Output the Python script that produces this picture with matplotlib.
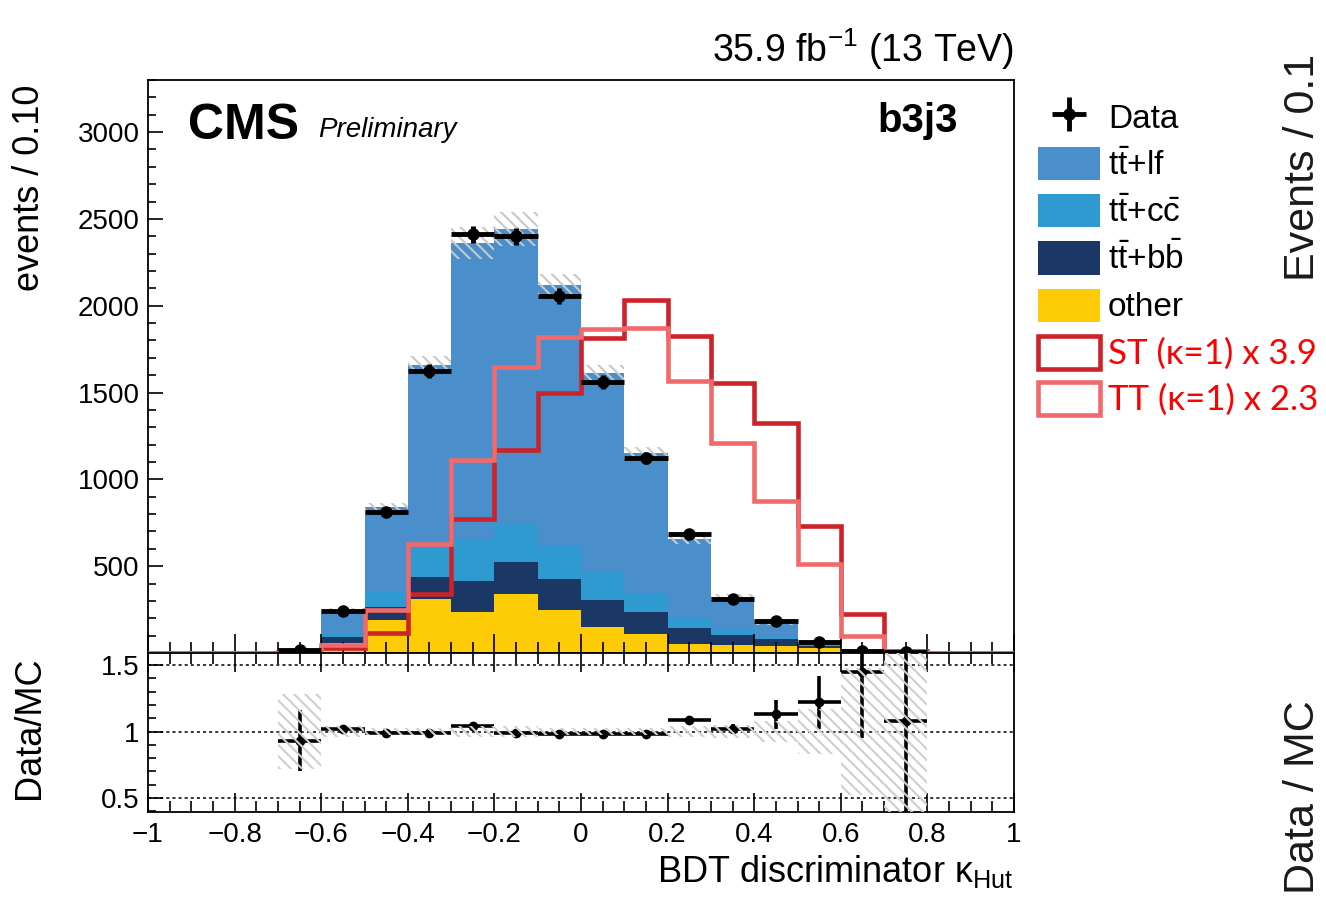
import numpy as np
import matplotlib
matplotlib.use('Agg')
import matplotlib.pyplot as plt
from matplotlib.patches import Patch
from matplotlib.ticker import MultipleLocator

plt.rcParams['font.family'] = ['Liberation Sans', 'DejaVu Sans']
plt.rcParams['mathtext.fontset'] = 'custom'
plt.rcParams['mathtext.rm'] = 'Liberation Sans'
plt.rcParams['mathtext.it'] = 'Liberation Sans:italic'
plt.rcParams['mathtext.bf'] = 'Liberation Sans:bold'
plt.rcParams['hatch.linewidth'] = 1.5

# binning of the BDT output, 20 bins of 0.1
bin_edges = np.linspace(-1, 1, 21)

# stacked backgrounds, events per bin (bins -1..-0.9 ... 0.9..1)
other = [0, 0, 0, 3, 59, 190, 313, 238, 338, 248, 148, 109, 52, 46, 40, 30, 7, 2.5, 0, 0]
tt_bb = [0, 0, 0, 2, 35, 75, 123, 178, 184, 176, 157, 129, 90, 58, 38, 8, 1, 0, 0, 0]
tt_cc = [0, 0, 0, 2, 21, 88, 176, 239, 219, 194, 160, 106, 67, 32, 7, 4, 0.5, 0, 0, 0]
tt_lf = [0, 0, 0, 11, 132, 486, 1046, 1706, 1700, 1501, 1147, 808, 447, 186, 93, 12, 0.5, 0.5, 0, 0]

# signals (already scaled)
st_sig = [0, 0, 0, 3, 30, 113, 338, 770, 1169, 1495, 1815, 2033, 1825, 1553, 1323, 731, 225, 12, 0, 0]
tt_sig = [0, 0, 0, 2, 46, 248, 630, 1111, 1645, 1821, 1864, 1870, 1566, 1211, 877, 512, 98, 5, 0, 0]

# data, only filled bins (-0.7 .. 0.8)
data_x = [-0.65, -0.55, -0.45, -0.35, -0.25, -0.15, -0.05, 0.05, 0.15, 0.25, 0.35, 0.45, 0.55, 0.65, 0.75]
data_y = [17, 242, 812, 1624, 2413, 2401, 2056, 1560, 1123, 685, 311, 184, 63, 13, 3]
data_err = [4, 16, 28, 40, 49, 49, 45, 40, 34, 26, 18, 14, 8, 4, 2]

# ratio panel
ratio = [0.93, 1.02, 0.99, 0.99, 1.04, 0.99, 0.98, 0.98, 0.98, 1.09, 1.02, 1.13, 1.22, 1.45, 1.08]
ratio_err = [0.23, 0.03, 0.02, 0.02, 0.02, 0.02, 0.02, 0.02, 0.02, 0.03, 0.04, 0.11, 0.2, 0.5, 0.75]
syst_band = [0.28, 0.04, 0.03, 0.03, 0.04, 0.04, 0.03, 0.03, 0.03, 0.04, 0.05, 0.08, 0.17, 0.48, 0.62]

xticks = [-1, -0.8, -0.6, -0.4, -0.2, 0, 0.2, 0.4, 0.6, 0.8, 1]
yticks_top = [500, 1000, 1500, 2000, 2500, 3000]
yticks_ratio = [0.5, 1, 1.5]

c_lf = '#4a8fcb'
c_cc = '#2f9ad0'
c_bb = '#1b3766'
c_other = '#fecc06'
c_st = '#cc2229'
c_tt = '#f06a6b'

W, H = 1326, 900
fig = plt.figure(figsize=(W / 100, H / 100), dpi=100)
ax1 = fig.add_axes([148 / W, 1 - 653 / H, 866 / W, 573 / H])
ax2 = fig.add_axes([148 / W, 1 - 812 / H, 866 / W, 159 / H])

#==============================================
# stacked MC
#==============================================
bottom = np.zeros(20)
for vals, col in [(other, c_other), (tt_bb, c_bb), (tt_cc, c_cc), (tt_lf, c_lf)]:
    vals = np.array(vals, dtype=float)
    ax1.stairs(bottom + vals, bin_edges, baseline=bottom, fill=True, color=col, lw=0, zorder=1)
    bottom = bottom + vals
mc_total = bottom

# MC uncertainty hatch
x_data = np.array(data_x)
idx = np.searchsorted(bin_edges, x_data) - 1
mc_sel = mc_total[idx]
band = np.array(syst_band)
ax1.bar(x_data, 2 * mc_sel * band, bottom=mc_sel * (1 - band), width=0.1,
        fill=False, hatch='\\\\\\', edgecolor='#c8c8c8', lw=0, zorder=2)

# signals
ax1.stairs(st_sig, bin_edges, color=c_st, lw=3.3, zorder=3)
ax1.stairs(tt_sig, bin_edges, color=c_tt, lw=3.3, zorder=3)

# data
data_h = ax1.errorbar(data_x, data_y, xerr=0.05, yerr=data_err, fmt='o', color='black',
                      ms=8, elinewidth=3.5, capsize=0, zorder=5, clip_on=False)

ax1.set_xlim(-1, 1)
ax1.set_ylim(0, 3300)
ax1.set_yticks(yticks_top)
ax1.set_yticklabels([str(v) for v in yticks_top])
ax1.yaxis.set_minor_locator(MultipleLocator(100))
ax1.xaxis.set_major_locator(MultipleLocator(0.2))
ax1.xaxis.set_minor_locator(MultipleLocator(0.05))
ax1.tick_params(axis='x', which='both', direction='in', labelbottom=False)
ax1.tick_params(axis='x', which='major', length=14, width=1.2)
ax1.tick_params(axis='x', which='minor', length=8, width=1.2)
ax1.tick_params(axis='y', which='major', direction='in', length=11, width=1.2, labelsize=20, pad=6)
ax1.tick_params(axis='y', which='minor', direction='in', length=6, width=1.2)
for s in ax1.spines.values():
    s.set_linewidth(1.3)

#==============================================
# ratio panel
#==============================================
for y in yticks_ratio:
    ax2.axhline(y, color='black', ls=(0, (2, 2)), lw=1.1, zorder=1)
ax2.errorbar(data_x, ratio, xerr=0.05, yerr=ratio_err, fmt='o', color='black',
             ms=6, elinewidth=2.6, capsize=0, zorder=3)
ax2.bar(x_data, 2 * band, bottom=1 - band, width=0.1, fill=False,
        hatch='\\\\\\', edgecolor='#cfcfcf', lw=0, zorder=4)
ax2.set_xlim(-1, 1)
ax2.set_ylim(0.395, 1.59)
ax2.set_yticks(yticks_ratio)
ax2.set_yticklabels(['0.5', '1', '1.5'])
ax2.set_xticks(xticks)
ax2.set_xticklabels([('%g' % v).replace('-', '\u2212') for v in xticks])
ax2.xaxis.set_minor_locator(MultipleLocator(0.05))
ax2.yaxis.set_minor_locator(MultipleLocator(0.1))
ax2.tick_params(axis='x', which='both', direction='in', top=True, labelsize=20, pad=7)
ax2.tick_params(axis='x', which='major', length=14, width=1.2)
ax2.tick_params(axis='x', which='minor', length=8, width=1.2)
ax2.tick_params(axis='y', which='major', direction='in', length=11, width=1.2, labelsize=20, pad=6)
ax2.tick_params(axis='y', which='minor', direction='in', length=6, width=1.2)
for s in ax2.spines.values():
    s.set_linewidth(1.3)

#==============================================
# texts
#==============================================
fig.text(188 / W, 1 - 126 / H, 'CMS', fontsize=36, fontweight='bold', va='center', ha='left')
fig.text(318 / W, 1 - 130 / H, 'Preliminary', fontsize=20, style='italic', va='center', ha='left')
fig.text(958 / W, 1 - 121 / H, 'b3j3', fontsize=29, fontweight='bold', va='center', ha='right')
fig.text(1014 / W, 1 - 49 / H, r'35.9 fb$^{-1}$ (13 TeV)', fontsize=27, va='center', ha='right')
fig.text(30 / W, 1 - 188 / H, 'events / 0.10', fontsize=26, rotation=90, va='center', ha='center')
fig.text(30 / W, 1 - 728 / H, 'Data/MC', fontsize=26, rotation=90, va='center', ha='center')
fig.text(1014 / W, 1 - 872 / H, r'BDT discriminator κ$_{\mathregular{Hut}}$', fontsize=26,
         va='center', ha='right')
fig.text(1303 / W, 1 - 167 / H, 'Events / 0.1', fontsize=31, rotation=90, va='center',
         ha='center', color='#1a1a1a')
fig.text(1303 / W, 1 - 797 / H, 'Data / MC', fontsize=31, rotation=90, va='center',
         ha='center', color='#1a1a1a')

# legend
handles = [data_h,
           Patch(facecolor=c_lf, edgecolor='none'),
           Patch(facecolor=c_cc, edgecolor='none'),
           Patch(facecolor=c_bb, edgecolor='none'),
           Patch(facecolor=c_other, edgecolor='none'),
           Patch(facecolor='none', edgecolor=c_st, lw=3.3),
           Patch(facecolor='none', edgecolor=c_tt, lw=3.3)]
labels = ['Data',
          r'$\mathrm{t\bar{t}}$+lf',
          r'$\mathrm{t\bar{t}}$+$\mathrm{c\bar{c}}$',
          r'$\mathrm{t\bar{t}}$+$\mathrm{b\bar{b}}$',
          'other',
          'ST (\u03ba=1) x 3.9',
          'TT (\u03ba=1) x 2.3']
leg = fig.legend(handles, labels, loc='upper left', bbox_to_anchor=(1038 / W, 1 - 100 / H),
                 frameon=False, fontsize=24, handlelength=1.85, handleheight=1.15,
                 handletextpad=0.25, labelspacing=0.37, borderpad=0, borderaxespad=0)
for t in leg.get_texts()[5:]:
    t.set_color('#ff0000')
    t.set_fontfamily(['Lato', 'DejaVu Sans'])
    t.set_fontsize(25)

fig.savefig('out.png', dpi=100)
